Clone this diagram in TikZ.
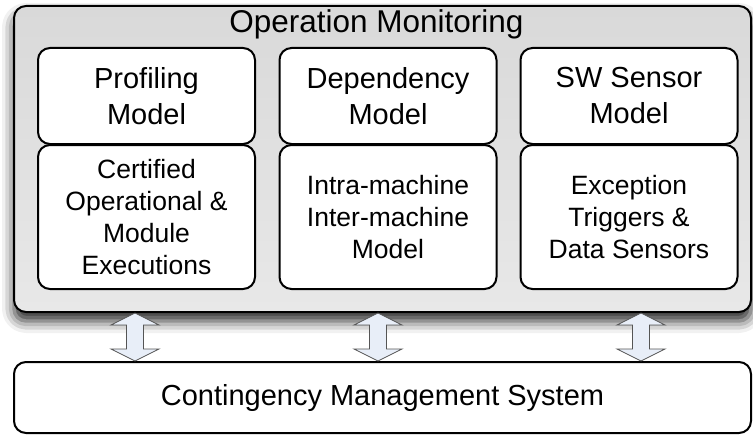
\documentclass[tikz,border=0pt]{standalone}
\usepackage{fontspec}
\setmainfont{Liberation Sans}
\usetikzlibrary{shadows.blur}

\definecolor{panelTop}{HTML}{D9D9D9}
\definecolor{panelBot}{HTML}{E8E8E8}
\definecolor{arrowFill}{HTML}{E8EEF8}
\definecolor{arrowLine}{HTML}{555555}

\tikzset{
  panel/.style={draw=black, line width=2pt, rounded corners=12pt,
    top color=panelTop, bottom color=panelBot,
    blur shadow={shadow xshift=0pt, shadow yshift=-9pt,
      shadow blur radius=12pt, shadow opacity=85},
    inner sep=0pt},
  modelbox/.style={draw=black, line width=2pt, rounded corners=12pt,
    fill=white, minimum width=217pt, inner sep=0pt, align=center},
  headbox/.style={modelbox, minimum height=96pt,
    font=\fontsize{29}{36}\selectfont},
  bodybox/.style={modelbox, minimum height=144pt,
    font=\fontsize{26.5}{32}\selectfont},
  cmsbox/.style={draw=black, line width=2pt, rounded corners=12pt,
    fill=white, minimum width=737pt, minimum height=71pt, inner sep=0pt,
    font=\fontsize{29}{35}\selectfont},
  linkarrow/.style={draw=arrowLine, line width=0.8pt, fill=arrowFill,
    line join=miter},
  % hollow two-way arrow: 48 long, heads 48 wide and 12 deep, shaft 17 wide
  twoway/.pic={
    \path[linkarrow] (0,-24) -- ++(24,12) -- ++(-15.5,0) -- ++(0,24)
      -- ++(15.5,0) -- ++(-24,12) -- ++(-24,-12) -- ++(15.5,0)
      -- ++(0,-24) -- ++(-15.5,0) -- cycle;
  }
}

\begin{document}
\begin{tikzpicture}[x=1pt, y=-1pt]
  \useasboundingbox (0,0) rectangle (753,436);

  % Operation monitoring panel
  \node[panel, minimum width=737pt, minimum height=306pt] (mon) at (382.5,159) {};
  \node[font=\fontsize{31.5}{36}\selectfont, anchor=base] (montitle) at (376.5,33) {Operation Monitoring};

  % model headers
  \node[headbox] (prof) at (146.5,96) {Profiling\\Model};
  \node[headbox] (dep)  at (388,96)   {Dependency\\Model};
  \node[headbox] (sws)  at (629,96)   {SW Sensor\\Model};

  % model contents
  \node[bodybox] (cert)  at (146.5,217) {Certified\\Operational \&\\Module\\Executions};
  \node[bodybox] (intra) at (388,217)   {Intra-machine\\Inter-machine\\Model};
  \node[bodybox] (exc)   at (629,217)   {Exception\\Triggers \&\\Data Sensors};

  % contingency management system
  \node[cmsbox] (cms) at (382.5,397.5) {Contingency Management System};

  % two-way links between the panel and the system
  \coordinate (l1) at (135,337);
  \coordinate (l2) at (378,337);
  \coordinate (l3) at (641,337);
  \pic at (l1) {twoway};
  \pic at (l2) {twoway};
  \pic at (l3) {twoway};
\end{tikzpicture}
\end{document}
